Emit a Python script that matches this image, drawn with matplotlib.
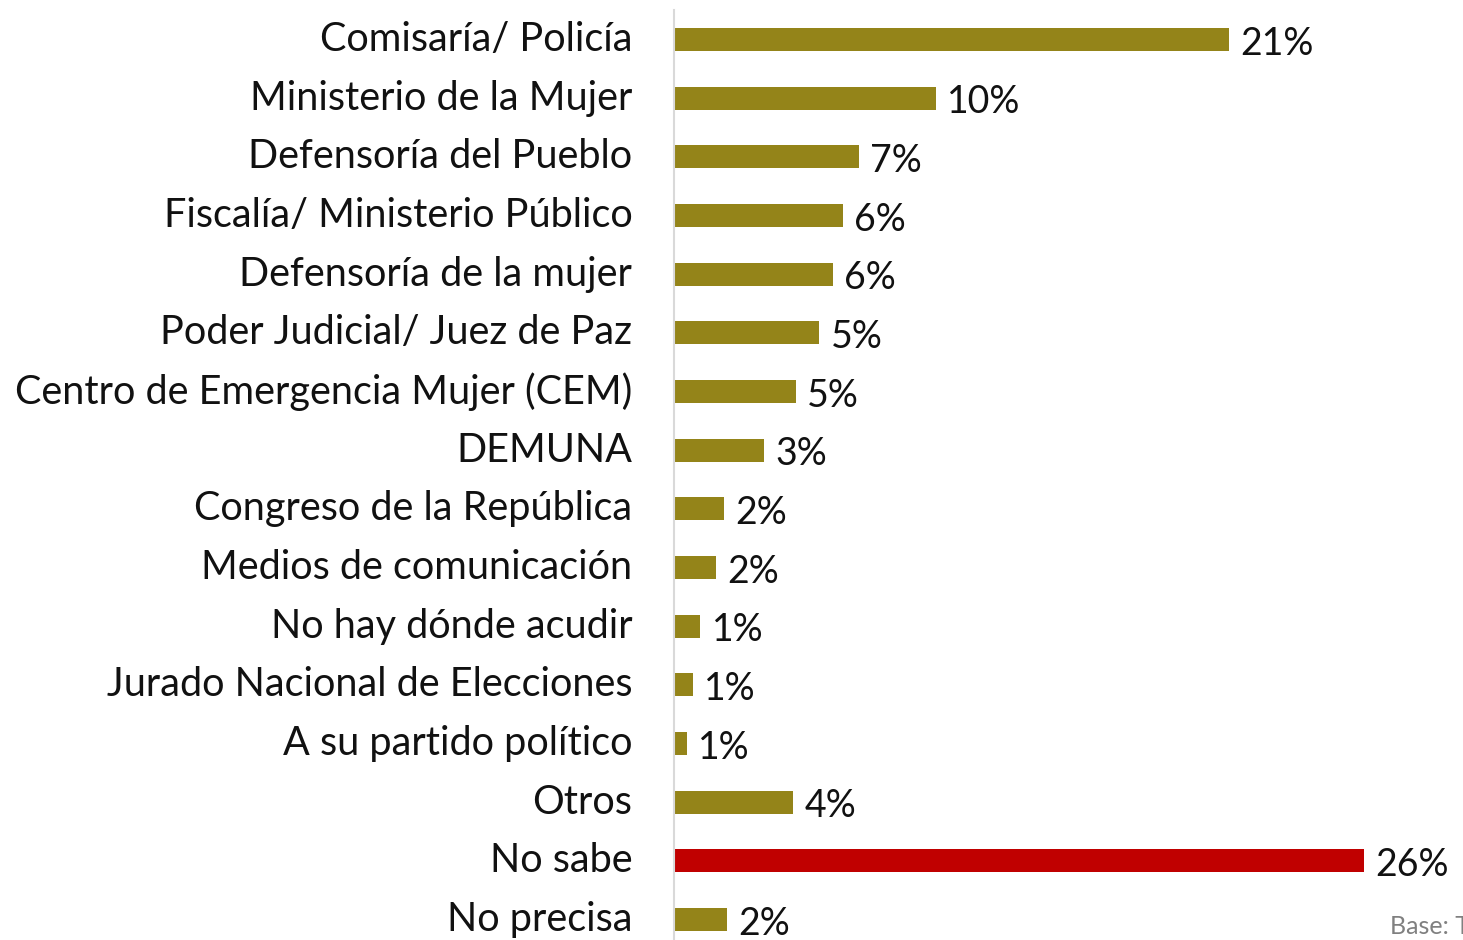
import matplotlib.pyplot as plt

categorias = [
    "Comisaría/ Policía",
    "Ministerio de la Mujer",
    "Defensoría del Pueblo",
    "Fiscalía/ Ministerio Público",
    "Defensoría de la mujer",
    "Poder Judicial/ Juez de Paz",
    "Centro de Emergencia Mujer (CEM)",
    "DEMUNA",
    "Congreso de la República",
    "Medios de comunicación",
    "No hay dónde acudir",
    "Jurado Nacional de Elecciones",
    "A su partido político",
    "Otros",
    "No sabe",
    "No precisa",
]
valores = [21.0, 9.9, 7.0, 6.4, 6.0, 5.5, 4.6, 3.4, 1.9, 1.6, 1.0, 0.7, 0.5, 4.5, 26.1, 2.0]
etiquetas = ["21%", "10%", "7%", "6%", "6%", "5%", "5%", "3%", "2%", "2%",
             "1%", "1%", "1%", "4%", "26%", "2%"]

plt.rcParams['font.family'] = ['Lato', 'DejaVu Sans']

W, H = 1463, 940
fig = plt.figure(figsize=(W / 100, H / 100), dpi=100)
ax = fig.add_axes([674 / W, 0, (W - 674) / W, 930 / H])

colores = ['#C00000' if c == "No sabe" else '#948419' for c in categorias]
pos = list(range(len(categorias)))
ax.barh(pos, valores, height=0.39, color=colores)

ax.set_xlim(0, (W - 674) / 26.45)
ax.set_ylim(15.35, -0.503)

for i, (v, t) in enumerate(zip(valores, etiquetas)):
    ax.annotate(t, xy=(v, i), xytext=(8, -3), textcoords='offset points',
                ha='left', va='center', fontsize=27, color='#111111',
                annotation_clip=False)
    ax.annotate(categorias[i], xy=(0, i), xytext=(-30, 0), textcoords='offset points',
                ha='right', va='center', fontsize=28.5, color='#111111',
                annotation_clip=False)

for s in ['top', 'right', 'bottom']:
    ax.spines[s].set_visible(False)
ax.spines['left'].set_color('#D9D9D9')
ax.spines['left'].set_linewidth(1.5)
ax.set_xticks([])
ax.set_yticks([])

# la nota de base queda cortada en el borde, como en el original
fig.text(1390 / W, 14 / H, "Base: Total de entrevistados", fontsize=18,
         color='#808080', ha='left', va='center')

fig.savefig("out.png", dpi=100)
